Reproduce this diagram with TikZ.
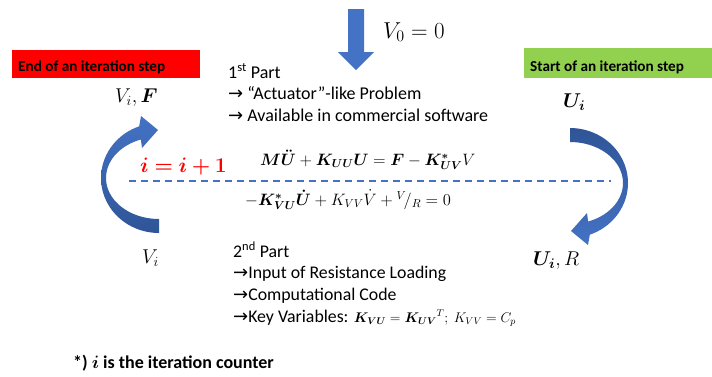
\RequirePackage{fix-cm}
\documentclass[tikz,border=0pt]{standalone}
\usepackage[no-math]{fontspec}
\setmainfont{Carlito}
\newfontfamily\symf{DejaVu Sans}
\usepackage{amsmath,bm}
\definecolor{ppblue}{HTML}{4472C4}
\definecolor{ppdark}{HTML}{2F5597}
\definecolor{ppred}{HTML}{FF0000}
\definecolor{ppgreen}{HTML}{92D050}
\newcommand\arr{{\symf\fontsize{18}{20}\selectfont →}}
\tikzset{
  body/.style={anchor=base west, inner sep=0pt, font=\fontsize{18}{21}\selectfont},
  bodyb/.style={anchor=base west, inner sep=0pt, font=\fontsize{17.8}{21}\selectfont},
  boxlabel/.style={anchor=base west, inner sep=0pt, font=\bfseries\fontsize{15.2}{18}\selectfont},
  mathbig/.style={anchor=base west, inner sep=0pt, font=\fontsize{20}{24}\selectfont},
  matheq/.style={anchor=base west, inner sep=0pt, font=\fontsize{16.5}{19}\selectfont},
}
\begin{document}
\begin{tikzpicture}[x=1pt,y=-1pt]
\useasboundingbox (0,0) rectangle (712,376);
% down arrow
\fill[ppblue] (348,9) -- (364,9) -- (364,52) -- (374,52) -- (356,70) -- (338,52) -- (348,52) -- cycle;
\node[mathbig, font=\fontsize{23}{27}\selectfont] (v0) at (383,38) {$V_0 = 0$};
% boxes
\fill[ppred] (12,50) rectangle (200,78);
\node[boxlabel] (endstep) at (18,71) {End of an iteration step};
\fill[ppgreen] (524,48) rectangle (720,78);
\node[boxlabel] (startstep) at (530,71) {Start of an iteration step};
% first part
\node[body] (p1) at (228,78) {1\textsuperscript{st} Part};
\node[body] (p1a) at (228,99) {\arr\ “Actuator”-like Problem};
\node[body] (p1b) at (228,121) {\arr\ Available in commercial software};
% labels
\node[mathbig] (vif) at (115,102) {$V_i, \bm{F}$};
\node[mathbig] (ui) at (563,107) {$\bm{U_i}$};
\node[mathbig] (vi) at (142,263) {$V_i$};
\node[mathbig] (uir) at (533,265) {$\bm{U_i}, R$};
% counter
\node[anchor=base west, inner sep=0pt, text=ppred, font=\fontsize{21}{25}\selectfont] (inc) at (140,172) {$\bm{i = i + 1}$};
% equations
\node[matheq] (eq1) at (260,165) {$\bm{M\ddot{U}} + \bm{K_{UU}U} = \bm{F} - \bm{K^{*}_{UV}}V$};
\node[matheq] (eq2) at (245,205) {$-\bm{K^{*}_{VU}\dot{U}} + K_{VV}\dot{V} + {}^{V}\!/_{R} = 0$};
\draw[ppblue, line width=1.6pt, dash pattern=on 7pt off 5pt] (129,181) -- (611,181);
% left curved arrow
\shade[top color=ppblue, bottom color=ppdark]
  plot[domain=90:250, samples=40] ({159+58*cos(\x)},{178+55*sin(\x)})
  -- (141,116) -- (158,130) -- (142,148)
  -- plot[domain=250:90, samples=40] ({159+53*cos(\x)},{178+41*sin(\x)}) -- cycle;
% right curved arrow
\shade[top color=ppdark, bottom color=ppblue]
  plot[domain=270:430, samples=40] ({570+58*cos(\x)},{183+55*sin(\x)})
  -- (588,245) -- (571,231) -- (587,213)
  -- plot[domain=430:270, samples=40] ({570+53*cos(\x)},{183+41*sin(\x)}) -- cycle;
% second part
\node[bodyb] (p2) at (233,257) {2\textsuperscript{nd} Part};
\node[bodyb] (p2a) at (233,278) {\arr Input of Resistance Loading};
\node[bodyb] (p2b) at (233,300) {\arr Computational Code};
\node[bodyb] (p2c) at (233,322) {\arr Key Variables: {\fontsize{14}{16}\selectfont$\bm{K_{VU}} = \bm{K_{UV}}{}^{T};\ K_{VV} = C_p$}};
% footnote
\node[boxlabel, font=\bfseries\fontsize{18}{21}\selectfont] (foot) at (73,368) {*) $\bm{i}$ is the iteration counter};
\end{tikzpicture}
\end{document}
